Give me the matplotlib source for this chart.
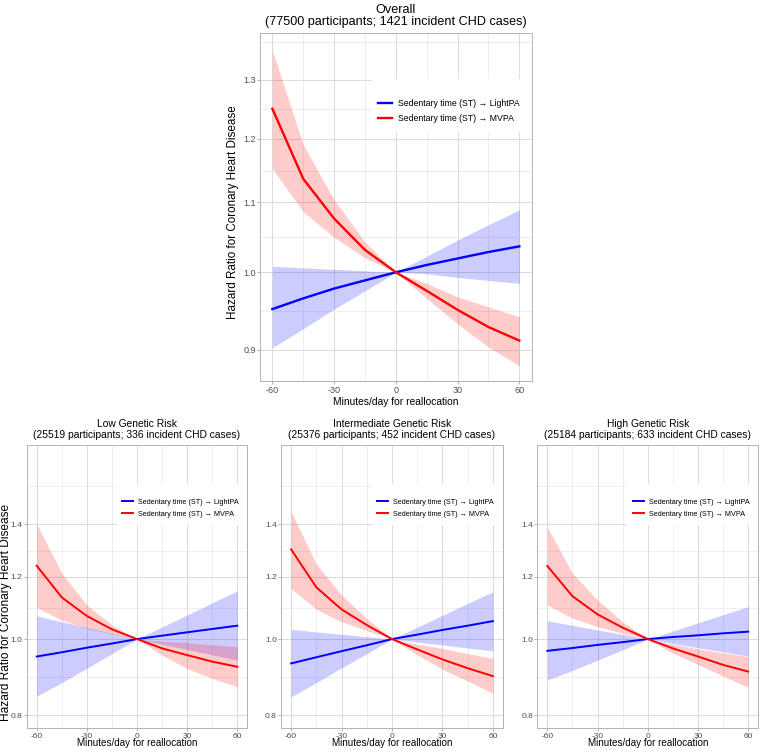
import matplotlib
matplotlib.use("Agg")
import matplotlib.pyplot as plt
from matplotlib.ticker import FixedLocator, FuncFormatter, NullFormatter
from matplotlib.patches import Rectangle

plt.rcParams['font.family'] = ['Liberation Sans', 'DejaVu Sans']

# ---------------- data ----------------
minutes = [-60, -45, -30, -15, 0, 15, 30, 45, 60]
x_ticks = [-60, -30, 0, 30, 60]
x_minor = [-45, -15, 15, 45]

label_light = "Sedentary time (ST) \u2192 LightPA"
label_mvpa = "Sedentary time (ST) \u2192 MVPA"

# Overall
overall_title = "Overall\n(77500 participants; 1421 incident CHD cases)"
overall_light = [0.951, 0.965, 0.978, 0.989, 1.000, 1.010, 1.019, 1.028, 1.036]
overall_light_hi = [1.008, 1.006, 1.004, 1.002, 1.000, 1.022, 1.045, 1.067, 1.089]
overall_light_lo = [0.902, 0.926, 0.951, 0.975, 1.000, 0.998, 0.993, 0.989, 0.985]
overall_mvpa = [1.250, 1.136, 1.076, 1.031, 1.000, 0.975, 0.950, 0.928, 0.911]
overall_mvpa_hi = [1.354, 1.190, 1.104, 1.042, 1.000, 0.985, 0.967, 0.954, 0.941]
overall_mvpa_lo = [1.152, 1.086, 1.049, 1.020, 1.000, 0.965, 0.932, 0.903, 0.880]
overall_yticks = [0.9, 1.0, 1.1, 1.2, 1.3]
overall_yminor = [0.9487, 1.0488, 1.1489, 1.2490, 1.370]

# Low genetic risk
low_title = "Low Genetic Risk\n(25519 participants; 336 incident CHD cases)"
low_light = [0.950, 0.962, 0.975, 0.987, 1.000, 1.010, 1.020, 1.030, 1.040]
low_light_hi = [1.070, 1.052, 1.035, 1.017, 1.000, 1.036, 1.073, 1.112, 1.152]
low_light_lo = [0.846, 0.880, 0.918, 0.958, 1.000, 0.985, 0.970, 0.955, 0.940]
low_mvpa = [1.240, 1.130, 1.070, 1.029, 1.000, 0.973, 0.954, 0.936, 0.922]
low_mvpa_hi = [1.401, 1.213, 1.105, 1.042, 1.000, 0.993, 0.990, 0.983, 0.978]
low_mvpa_lo = [1.097, 1.057, 1.032, 1.015, 1.000, 0.954, 0.917, 0.891, 0.869]

# Intermediate genetic risk
mid_title = "Intermediate Genetic Risk\n(25376 participants; 452 incident CHD cases)"
mid_light = [0.931, 0.948, 0.965, 0.982, 1.000, 1.013, 1.027, 1.040, 1.054]
mid_light_hi = [1.029, 1.021, 1.014, 1.007, 1.000, 1.035, 1.072, 1.110, 1.149]
mid_light_lo = [0.844, 0.880, 0.919, 0.958, 1.000, 0.991, 0.983, 0.974, 0.966]
mid_mvpa = [1.301, 1.164, 1.091, 1.042, 1.000, 0.970, 0.942, 0.918, 0.897]
mid_mvpa_hi = [1.453, 1.246, 1.138, 1.062, 1.000, 0.985, 0.973, 0.958, 0.945]
mid_mvpa_lo = [1.160, 1.091, 1.052, 1.025, 1.000, 0.955, 0.915, 0.884, 0.853]

# High genetic risk
high_title = "High Genetic Risk\n(25184 participants; 633 incident CHD cases)"
high_light = [0.966, 0.974, 0.983, 0.991, 1.000, 1.006, 1.011, 1.017, 1.022]
high_light_hi = [1.055, 1.041, 1.027, 1.014, 1.000, 1.024, 1.049, 1.074, 1.100]
high_light_lo = [0.887, 0.912, 0.940, 0.969, 1.000, 0.987, 0.975, 0.963, 0.951]
high_mvpa = [1.239, 1.134, 1.075, 1.034, 1.000, 0.973, 0.950, 0.927, 0.909]
high_mvpa_hi = [1.388, 1.213, 1.121, 1.052, 1.000, 0.985, 0.972, 0.960, 0.950]
high_mvpa_lo = [1.105, 1.063, 1.037, 1.017, 1.000, 0.960, 0.928, 0.897, 0.868]

sub_yticks = [0.8, 1.0, 1.2, 1.4]
sub_yminor = [0.894, 1.095, 1.296, 1.565]

xlabel = "Minutes/day for reallocation"
ylabel = "Hazard Ratio for Coronary Heart Disease"

# ---------------- layout ----------------
W, H = 760, 752
fig = plt.figure(figsize=(W / 100, H / 100), dpi=100)


def px_axes(left, right, top, bottom):
    return fig.add_axes([left / W, (H - bottom) / H, (right - left) / W, (bottom - top) / H])


def panel(ax, title, light, light_hi, light_lo, mvpa, mvpa_hi, mvpa_lo,
          yticks, yminor, ylim, show_ylabel, s):
    ax.set_yscale('log')
    ax.fill_between(minutes, light_lo, light_hi, color='blue', alpha=0.2, lw=0, zorder=2)
    ax.fill_between(minutes, mvpa_lo, mvpa_hi, color='red', alpha=0.2, lw=0, zorder=2)
    l1, = ax.plot(minutes, light, color='blue', lw=s['lw'], zorder=3, label=label_light)
    l2, = ax.plot(minutes, mvpa, color='red', lw=s['lw'], zorder=3, label=label_mvpa)
    ax.set_xlim(-66, 66)
    ax.set_ylim(*ylim)
    ax.xaxis.set_major_locator(FixedLocator(x_ticks))
    ax.xaxis.set_minor_locator(FixedLocator(x_minor))
    ax.yaxis.set_major_locator(FixedLocator(yticks))
    ax.yaxis.set_minor_locator(FixedLocator(yminor))
    ax.yaxis.set_major_formatter(FuncFormatter(lambda v, p: f"{v:.1f}"))
    ax.yaxis.set_minor_formatter(NullFormatter())
    ax.xaxis.set_major_formatter(FuncFormatter(lambda v, p: f"{int(v)}"))
    ax.grid(which='major', color='#dcdcdc', lw=0.75)
    ax.grid(which='minor', color='#e8e8e8', lw=0.5)
    ax.set_axisbelow(True)
    for sp in ax.spines.values():
        sp.set_color('#b3b3b3')
        sp.set_linewidth(0.7)
    ax.tick_params(which='major', color='#b3b3b3', length=2, width=0.8,
                   labelcolor='#4d4d4d', labelsize=s['tick'])
    ax.tick_params(axis='x', which='major', pad=s['xpad'])
    ax.tick_params(axis='y', which='major', pad=1.0)
    ax.tick_params(which='minor', length=0)
    ax.set_xlabel(xlabel, fontsize=s['xl'])
    ax.xaxis.set_label_coords(0.5, s['xl_y'])
    ax.xaxis.label.set_va('center')
    if show_ylabel:
        ax.set_ylabel(ylabel, fontsize=s['yl'])
        ax.yaxis.set_label_coords(s['yl_x'], s['yl_y'])
        ax.yaxis.label.set_va('center')
    ax.text(0.5, s['t_y'], title, transform=ax.transAxes, ha='center', va='center',
            fontsize=s['title'], linespacing=s['ls'], multialignment='center')
    # legend background
    ax.add_patch(Rectangle((s['lg_x0'], s['lg_y0']), 1 - s['lg_x0'], s['lg_y1'] - s['lg_y0'],
                           transform=ax.transAxes, facecolor='white', edgecolor='none',
                           zorder=4, clip_on=False))
    leg = ax.legend(handles=[l1, l2], loc='center left',
                    bbox_to_anchor=(s['lg_kx'], s['lg_cy']), frameon=False,
                    fontsize=s['leg'], handlelength=s['hl'], handletextpad=s['htp'],
                    labelspacing=s['lsp'], borderpad=0, borderaxespad=0)
    leg.set_zorder(5)


top_style = dict(lw=1.7, tick=6.5, xpad=2.0, xl=7.4, yl=8.4, yl_y=0.484, title=9.1, ls=1.0,
                 xl_y=-0.060, yl_x=-0.099, t_y=1.049,
                 lg_x0=0.411, lg_y0=0.715, lg_y1=0.868, lg_kx=0.434, lg_cy=0.776,
                 leg=6.3, hl=1.6, htp=0.69, lsp=0.65)
sub_style = dict(lw=1.4, tick=6.0, xpad=1.6, xl=7.1, yl=8.6, yl_y=0.406, title=7.4, ls=1.1,
                 xl_y=-0.055, yl_x=-0.094, t_y=1.056,
                 lg_x0=0.408, lg_y0=0.717, lg_y1=0.862, lg_kx=0.431, lg_cy=0.777,
                 leg=5.2, hl=1.53, htp=0.78, lsp=0.7)

ax0 = px_axes(260, 531.7, 33, 380.7)
panel(ax0, overall_title, overall_light, overall_light_hi, overall_light_lo,
      overall_mvpa, overall_mvpa_hi, overall_mvpa_lo,
      overall_yticks, overall_yminor, (0.8625, 1.386), True, top_style)

ax1 = px_axes(26.7, 247.3, 445, 727.7)
panel(ax1, low_title, low_light, low_light_hi, low_light_lo,
      low_mvpa, low_mvpa_hi, low_mvpa_lo,
      sub_yticks, sub_yminor, (0.771, 1.767), True, sub_style)

ax2 = px_axes(281, 503, 445, 727.7)
panel(ax2, mid_title, mid_light, mid_light_hi, mid_light_lo,
      mid_mvpa, mid_mvpa_hi, mid_mvpa_lo,
      sub_yticks, sub_yminor, (0.771, 1.767), False, sub_style)

ax3 = px_axes(537.3, 758.3, 445, 727.7)
panel(ax3, high_title, high_light, high_light_hi, high_light_lo,
      high_mvpa, high_mvpa_hi, high_mvpa_lo,
      sub_yticks, sub_yminor, (0.771, 1.767), False, sub_style)

fig.savefig("out.png", dpi=100, facecolor='white')
